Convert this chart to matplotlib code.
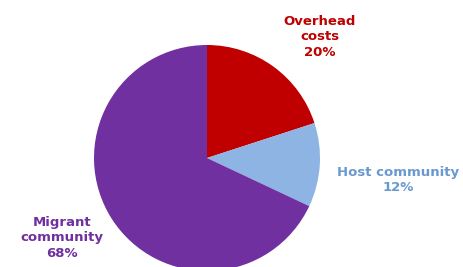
import matplotlib
matplotlib.use("Agg")
import matplotlib.pyplot as plt

categories = ["Overhead\ncosts", "Host community", "Migrant\ncommunity"]
values = [20, 12, 68]
colors = ["#C00000", "#8DB4E2", "#7030A0"]
text_colors = ["#C00000", "#6A98D0", "#7030A0"]
label_pos = [(320, 230), (398, 87), (62, 29)]

fig = plt.figure(figsize=(4.63, 2.67), dpi=100)
ax = fig.add_axes([0, 0, 1, 1])
ax.set_xlim(0, 463)
ax.set_ylim(0, 267)
ax.set_aspect("equal")
ax.axis("off")

ax.pie(values, colors=colors, startangle=90, counterclock=False,
       center=(207, 109), radius=113, frame=True,
       wedgeprops=dict(linewidth=0))
ax.set_xlim(0, 463)
ax.set_ylim(0, 267)
ax.axis("off")

for cat, v, c, (x, y) in zip(categories, values, text_colors, label_pos):
    ax.text(x, y, f"{cat}\n{v}%", ha="center", va="center", color=c,
            fontsize=9.5, fontweight="bold", linespacing=1.25)

fig.savefig("out.png", dpi=100)
